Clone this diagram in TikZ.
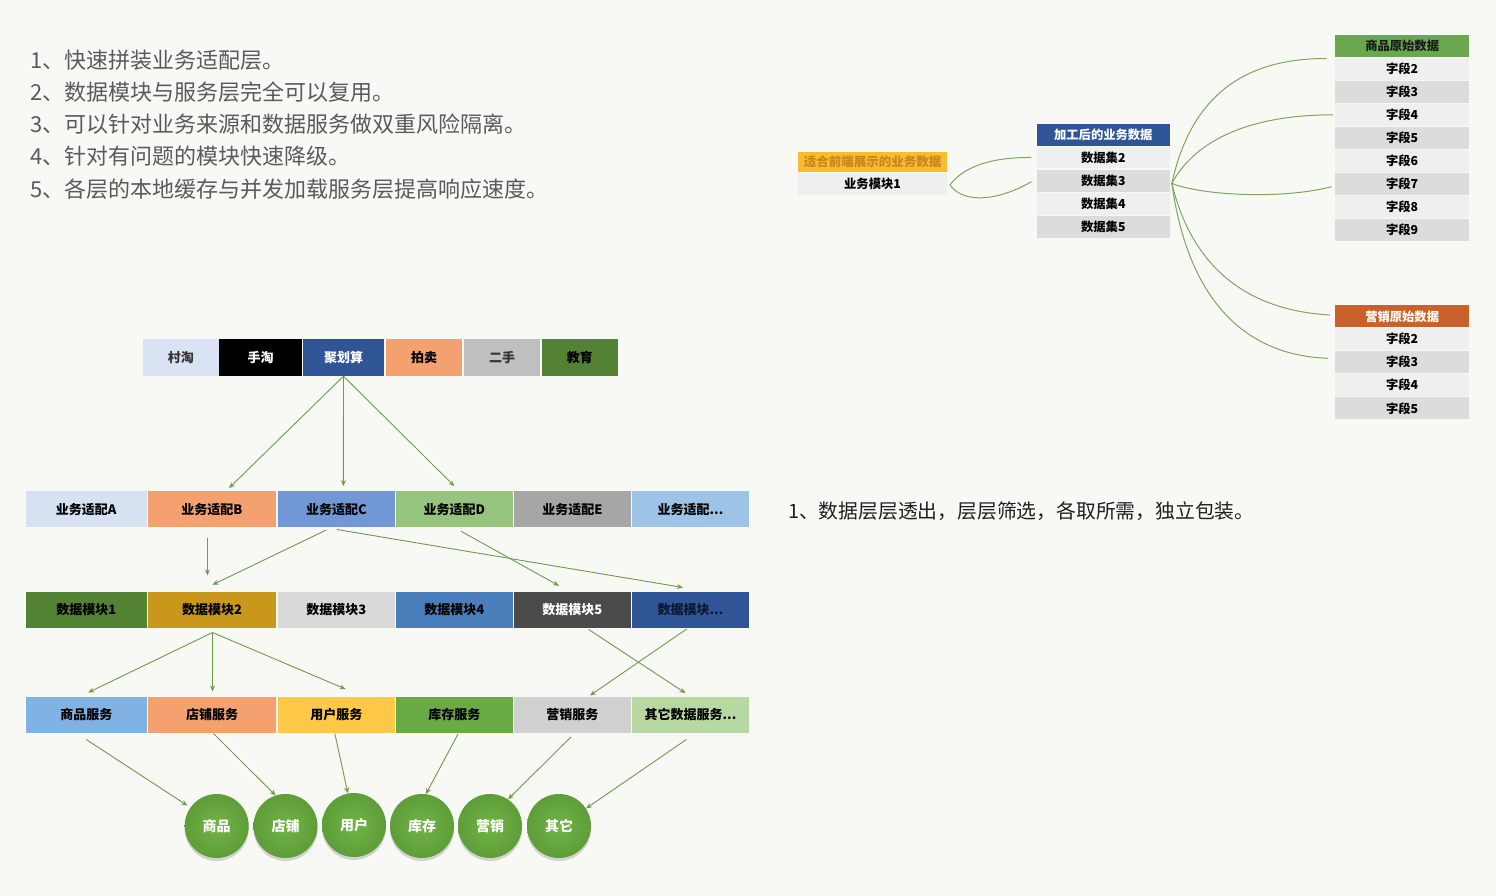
\documentclass[tikz,border=0pt]{standalone}
\usepackage{fontspec}
\setmainfont{Noto Sans CJK SC}
\usetikzlibrary{arrows.meta,shadows}
\definecolor{bgc}{HTML}{F8F9F4}
\definecolor{arrc}{HTML}{6E9B4E}
\definecolor{curc}{HTML}{7FA562}
\definecolor{ltxt}{HTML}{5A5A5A}
\definecolor{lg}{HTML}{EFEFEF}
\definecolor{dg}{HTML}{DCDCDC}
\definecolor{navy}{HTML}{2F5597}
\definecolor{org}{HTML}{F4A06F}
\definecolor{grn}{HTML}{548235}
\definecolor{cirin}{HTML}{72B446}
\definecolor{cirout}{HTML}{5E9D38}
\definecolor{cunTao}{HTML}{DAE3F3}
\definecolor{dtxt}{HTML}{333333}
\definecolor{gry}{HTML}{BFBFBF}
\definecolor{adA}{HTML}{D6E1F2}
\definecolor{adC}{HTML}{7297D6}
\definecolor{adD}{HTML}{94C47E}
\definecolor{adE}{HTML}{A6A6A6}
\definecolor{adF}{HTML}{9DC3E6}
\definecolor{mdB}{HTML}{C9971C}
\definecolor{mdC}{HTML}{D9D9D9}
\definecolor{mdD}{HTML}{4A7EBB}
\definecolor{mdE}{HTML}{4A4A4A}
\definecolor{mdFt}{HTML}{101830}
\definecolor{svA}{HTML}{80B3E4}
\definecolor{svC}{HTML}{FFC846}
\definecolor{svD}{HTML}{6AAA45}
\definecolor{svE}{HTML}{D0D0D0}
\definecolor{svF}{HTML}{B8D8A2}
\definecolor{yhd}{HTML}{F9BC30}
\definecolor{yht}{HTML}{C8861C}
\definecolor{ghd}{HTML}{6AA84F}
\definecolor{ght}{HTML}{1A1A1A}
\definecolor{khd}{HTML}{C8622A}
\begin{document}
\begin{tikzpicture}[x=1pt,y=-1pt,
  box/.style={inner sep=0pt, minimum height=36pt, text height=10.5pt, text depth=1pt, font=\bfseries\fontsize{13}{13}\selectfont, text=black},
  mm/.style={inner sep=0pt, minimum width=133.5pt, minimum height=22pt, text height=10pt, text depth=0.6pt, font=\bfseries\fontsize{12.3}{12.3}\selectfont, text=black},
  circ/.style={circle, minimum size=64pt, inner sep=0pt, inner color=cirin, outer color=cirout, text=white, font=\bfseries\fontsize{14}{14}\selectfont, drop shadow={opacity=0.3, shadow xshift=0pt, shadow yshift=-3pt}},
  arr/.style={draw=arrc, line width=0.9pt, -{Stealth[length=6pt,width=5pt]}},
  cur/.style={draw=curc, line width=1pt},
  note/.style={anchor=west, inner sep=0pt, text height=0.8em, text depth=0.2em}
]
\fill[bgc] (0,0) rectangle (1496,896);
\useasboundingbox (0,0) rectangle (1496,896);

% top-left notes
\begin{scope}[every node/.style={note, text=ltxt, font=\fontsize{22}{22}\selectfont}]
\node (n1) at (30,66) {1、快速拼装业务适配层。};
\node (n2) at (30,98) {2、数据模块与服务层完全可以复用。};
\node (n3) at (30,130) {3、可以针对业务来源和数据服务做双重风险隔离。};
\node (n4) at (30,162) {4、针对有问题的模块快速降级。};
\node (n5) at (30,194) {5、各层的本地缓存与并发加载服务层提高响应速度。};
\end{scope}
\node[note, text=black!88, font=\fontsize{19.8}{19.8}\selectfont] (n6) at (788,515) {1、数据层层透出，层层筛选，各取所需，独立包装。};

% row 1: sources
\begin{scope}[every node/.style={box, minimum height=37pt}]
\node[fill=cunTao, text=dtxt, minimum width=75.5pt] (r1) at (180.75,357.5) {村淘};
\node[fill=black, text=white, minimum width=83pt] (r2) at (260.5,357.5) {手淘};
\node[fill=navy, text=white, minimum width=81pt] (r3) at (343.5,357.5) {聚划算};
\node[fill=org, minimum width=76pt] (r4) at (424,357.5) {拍卖};
\node[fill=gry, text=dtxt, minimum width=76pt] (r5) at (502,357.5) {二手};
\node[fill=grn, minimum width=75.5pt] (r6) at (579.75,357.5) {教育};
\end{scope}

% row 2: adapters
\node[box, fill=adA, minimum width=120.5pt] (a1) at (86.25,509.3) {业务适配A};
\node[box, fill=org, minimum width=128pt] (a2) at (212,509.3) {业务适配B};
\node[box, fill=adC, minimum width=116.7pt] (a3) at (336.35,509.3) {业务适配C};
\node[box, fill=adD, minimum width=116.7pt] (a4) at (454.35,509.3) {业务适配D};
\node[box, fill=adE, minimum width=116.7pt] (a5) at (572.35,509.3) {业务适配E};
\node[box, fill=adF, minimum width=117pt] (a6) at (690.5,509.3) {业务适配...};

% row 3: data modules
\node[box, fill=grn, minimum width=120.5pt] (m1) at (86.25,609.7) {数据模块1};
\node[box, fill=mdB, minimum width=128pt] (m2) at (212,609.7) {数据模块2};
\node[box, fill=mdC, minimum width=116.7pt] (m3) at (336.35,609.7) {数据模块3};
\node[box, fill=mdD, minimum width=116.7pt] (m4) at (454.35,609.7) {数据模块4};
\node[box, fill=mdE, text=white, minimum width=116.7pt] (m5) at (572.35,609.7) {数据模块5};
\node[box, fill=navy, text=mdFt, minimum width=117pt] (m6) at (690.5,609.7) {数据模块...};

% row 4: services
\node[box, fill=svA, minimum width=120.5pt] (s1) at (86.25,714.7) {商品服务};
\node[box, fill=org, minimum width=128pt] (s2) at (212,714.7) {店铺服务};
\node[box, fill=svC, minimum width=116.7pt] (s3) at (336.35,714.7) {用户服务};
\node[box, fill=svD, minimum width=116.7pt] (s4) at (454.35,714.7) {库存服务};
\node[box, fill=svE, minimum width=116.7pt] (s5) at (572.35,714.7) {营销服务};
\node[box, fill=svF, minimum width=117pt] (s6) at (690.5,714.7) {其它数据服务...};

% circles
\node[circ] (c1) at (216.7,826) {商品};
\node[circ] (c2) at (285.5,826) {店铺};
\node[circ] (c3) at (354,825) {用户};
\node[circ] (c4) at (422,826) {库存};
\node[circ] (c5) at (490,826) {营销};
\node[circ] (c6) at (559,826) {其它};

% arrows row1 -> row2
\draw[arr] (r3.south) -- ([xshift=17pt,yshift=3pt]a2.north);
\draw[arr] (r3.south) -- ([xshift=7pt,yshift=5pt]a3.north);
\draw[arr] (r3.south) -- ([yshift=5pt]a4.north);
% row2 -> row3
\draw[arr] ([xshift=-4.6pt,yshift=-10.7pt]a2.south) -- ([xshift=-4.6pt,yshift=16pt]m2.north);
\draw[arr] ([xshift=-10.5pt,yshift=-2.7pt]a3.south) -- ([xshift=0.5pt,yshift=6.7pt]m2.north);
\draw[arr] ([xshift=0.65pt,yshift=-2pt]a3.south) -- ([xshift=-7.5pt,yshift=4pt]m6.north);
\draw[arr] ([xshift=6.6pt,yshift=-3.7pt]a4.south) -- ([xshift=-13.3pt,yshift=5.7pt]m5.north);
% row3 -> row4
\draw[arr] ([xshift=0.5pt,yshift=-4.6pt]m2.south) -- ([xshift=2pt,yshift=4pt]s1.north);
\draw[arr] ([xshift=0.5pt,yshift=-4.6pt]m2.south) -- ([xshift=0.5pt,yshift=5pt]s2.north);
\draw[arr] ([xshift=0.5pt,yshift=-4.6pt]m2.south) -- ([xshift=9.3pt,yshift=7.4pt]s3.north);
\draw[arr] ([xshift=16.3pt,yshift=-1.6pt]m5.south) -- ([xshift=-5pt,yshift=3.4pt]s6.north);
\draw[arr] ([xshift=-3.7pt,yshift=-1pt]m6.south) -- ([xshift=17.6pt,yshift=1pt]s5.north);
% row4 -> circles
\draw[arr] ([yshift=-6.6pt]s1.south) -- ([xshift=-3pt,yshift=2pt]c1.145);
\draw[arr] ([xshift=1.5pt,yshift=-0.6pt]s2.south) -- (c2.108);
\draw[arr] ([xshift=-1.5pt,yshift=-0.6pt]s3.south) -- (c3.101);
\draw[arr] ([xshift=3.6pt,yshift=-1.3pt]s4.south) -- (c4.83);
\draw[arr] ([xshift=-1.3pt,yshift=-4pt]s5.south) -- (c5.56);
\draw[arr] ([xshift=-4.1pt,yshift=-6.6pt]s6.south) -- (c6.33);

% mind map: front-end block
\node[mm, minimum width=148.4pt, minimum height=20.6pt, fill=yhd, text=yht, font=\bfseries\fontsize{12.5}{12.5}\selectfont] (yh) at (872.5,162) {适合前端展示的业务数据};
\node[mm, minimum width=148.4pt, minimum height=21.7pt, fill=lg] (yb) at (872.5,184.2) {业务模块1};

% processed data block
\node[mm, minimum width=133.3pt, minimum height=21.4pt, fill=navy, text=white] (bh) at (1103.3,135) {加工后的业务数据};
\node[mm, minimum width=133.3pt, minimum height=21.7pt, fill=lg] (d2) at (1103.3,157.5) {数据集2};
\node[mm, minimum width=133.3pt, minimum height=21.7pt, fill=dg] (d3) at (1103.3,180.85) {数据集3};
\node[mm, minimum width=133.3pt, minimum height=21.7pt, fill=lg] (d4) at (1103.3,204.15) {数据集4};
\node[mm, minimum width=133.3pt, minimum height=21.7pt, fill=dg] (d5) at (1103.3,226.85) {数据集5};

% raw goods data
\node[mm, fill=ghd, text=ght] (gh) at (1402.15,45.7) {商品原始数据};
\node[mm, fill=lg] (g2) at (1402.15,68.8) {字段2};
\node[mm, fill=dg] (g3) at (1402.15,91.8) {字段3};
\node[mm, fill=lg] (g4) at (1402.15,114.8) {字段4};
\node[mm, fill=dg] (g5) at (1402.15,137.8) {字段5};
\node[mm, fill=lg] (g6) at (1402.15,160.8) {字段6};
\node[mm, fill=dg] (g7) at (1402.15,183.8) {字段7};
\node[mm, fill=lg] (g8) at (1402.15,206.8) {字段8};
\node[mm, fill=dg] (g9) at (1402.15,229.8) {字段9};

% raw marketing data
\node[mm, fill=khd, text=white] (kh) at (1402.15,316.3) {营销原始数据};
\node[mm, fill=lg] (k2) at (1402.15,339.2) {字段2};
\node[mm, fill=dg] (k3) at (1402.15,362.2) {字段3};
\node[mm, fill=lg] (k4) at (1402.15,385.2) {字段4};
\node[mm, fill=dg] (k5) at (1402.15,408.3) {字段5};

% curves left leaf
\draw[cur] ([xshift=3pt,yshift=-0.8pt]yb.east) .. controls +(15,-20) and +(-36.7,-0.3) .. ([xshift=-5pt]d2.west);
\draw[cur] ([xshift=3pt,yshift=-0.8pt]yb.east) .. controls +(15,20) and +(-31.7,18.3) .. ([xshift=-5pt,yshift=-0.8pt]d3.west);

% curves fan
\coordinate (fo) at ([xshift=1.7pt,yshift=-2.5pt]d3.east);
\draw[cur] (fo) .. controls +(18.3,-83.3) and +(-86.7,-0.3) .. ([xshift=-8.6pt,yshift=-1.6pt]gh.south west);
\draw[cur] (fo) .. controls +(23.3,-43.3) and +(-83.3,0) .. ([xshift=-2pt]g4.west);
\draw[cur] (fo) .. controls +(28.3,11.7) and +(-51.7,13.3) .. ([xshift=-3.6pt,yshift=-2.9pt]g7.west);
\draw[cur] (fo) .. controls +(18.3,76.7) and +(-90,-5) .. ([xshift=-5.3pt,yshift=1.3pt]kh.west);
\draw[cur] (fo) .. controls +(13.3,96.7) and +(-98.3,-3.3) .. ([xshift=-7pt,yshift=3.9pt]k3.west);
\end{tikzpicture}
\end{document}
